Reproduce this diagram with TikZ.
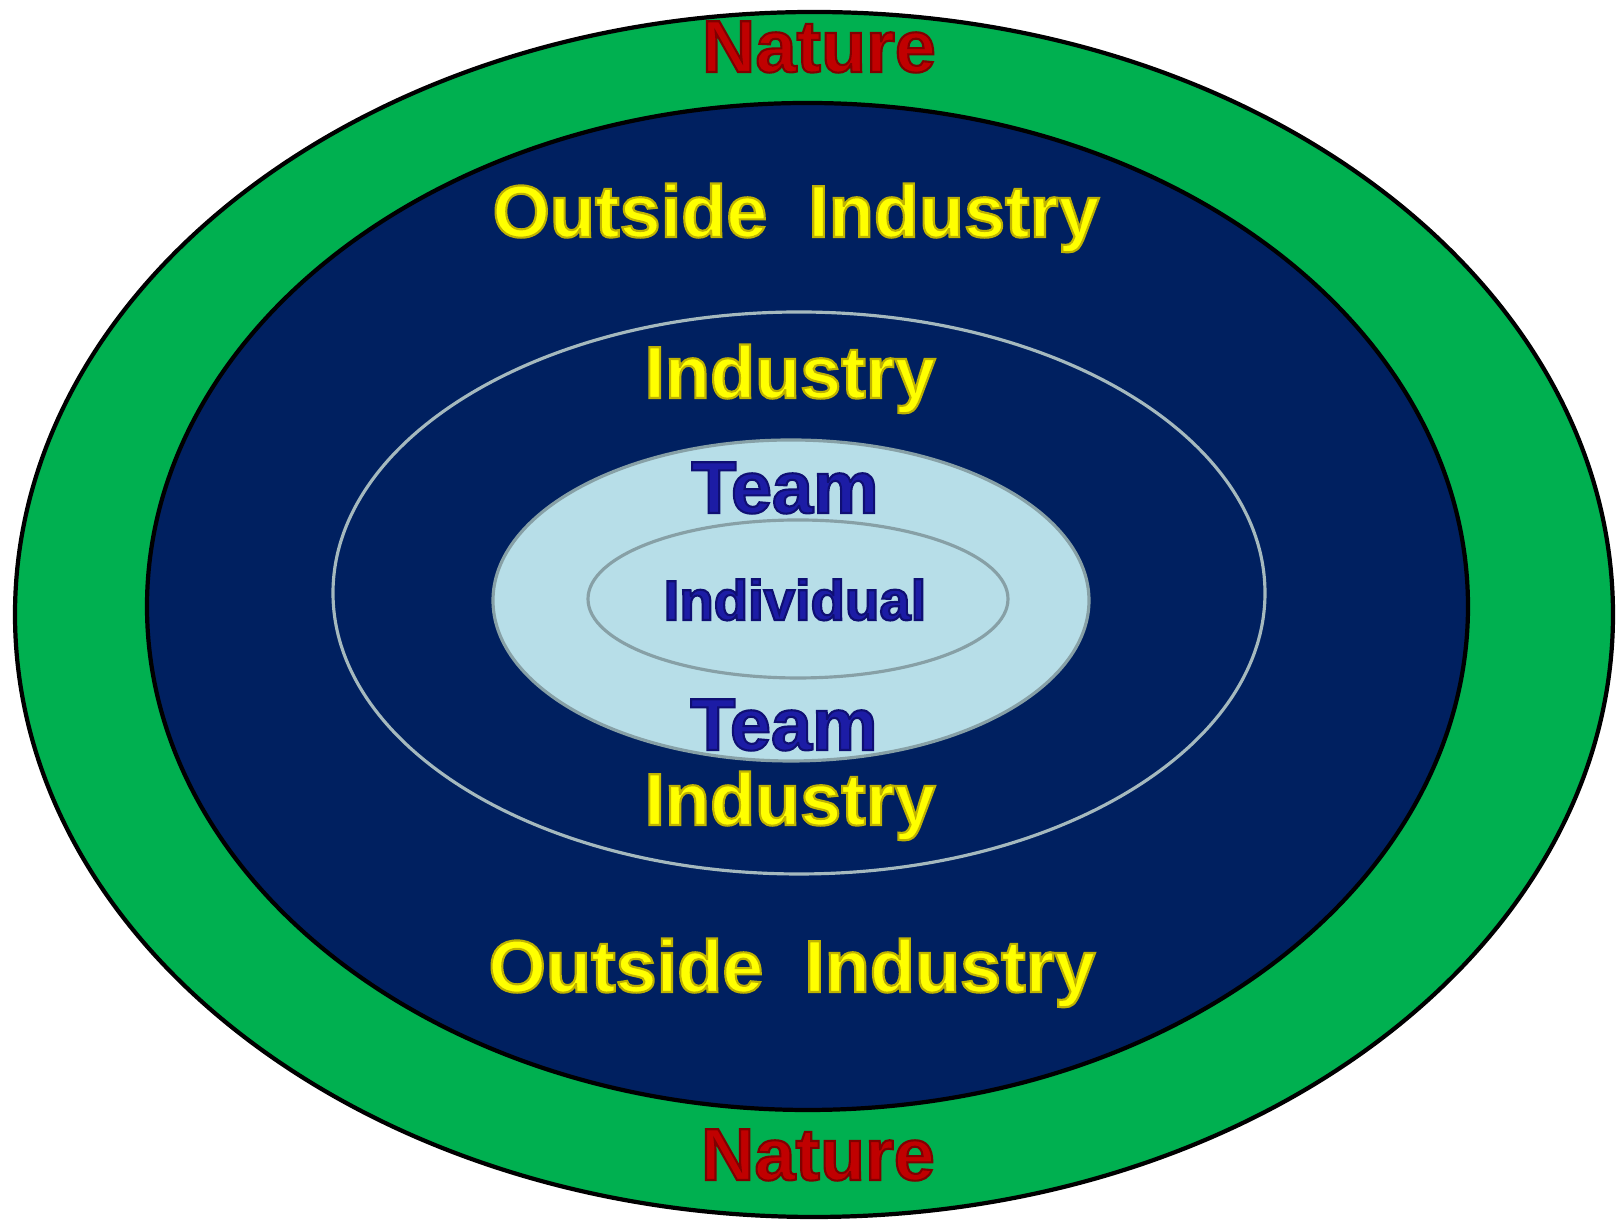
\documentclass[tikz,border=0pt]{standalone}
\usepackage{fontspec}
\setmainfont{Liberation Sans}
\definecolor{naturegreen}{RGB}{0,176,80}
\definecolor{outsidenavy}{RGB}{0,32,96}
\definecolor{teamfill}{RGB}{183,222,232}
\definecolor{ringgray}{RGB}{135,160,166}
\definecolor{industryring}{RGB}{165,185,190}
\definecolor{labelred}{RGB}{192,0,0}
\definecolor{labelyellow}{RGB}{255,255,0}
\definecolor{labelblue}{RGB}{28,28,165}
% darker edge round the letters (stroke colour as r g b)
\newcommand{\edged}[2]{\special{pdf:literal direct 2 Tr 0.6 w #1 RG}#2\special{pdf:literal direct 0 Tr}}
\begin{document}
\begin{tikzpicture}[big/.style={font=\bfseries\fontsize{21}{25}\selectfont, anchor=base}, small/.style={font=\bfseries\fontsize{16}{19}\selectfont, anchor=base}]
	\useasboundingbox (0,0) rectangle (16.18,12.30);
	% rings
	\draw[line width=1.2pt, fill=naturegreen] (8.14,6.155) ellipse (7.99 and 6.025);
	\draw[line width=1.2pt, fill=outsidenavy] (8.075,6.235) ellipse (6.605 and 5.035);
	\draw[line width=0.9pt, industryring] (7.99,6.37) ellipse (4.66 and 2.81);
	\draw[line width=0.9pt, ringgray, fill=teamfill] (7.91,6.295) ellipse (2.98 and 1.605);
	\draw[line width=0.9pt, ringgray] (7.98,6.31) ellipse (2.10 and 0.79);
	% labels
	\node[big, labelred] (N1) at (8.19,11.58) {\edged{0.5 0 0}{Nature}};
	\node[big, labelyellow] (O1) at (7.96,9.93) {\edged{0.75 0.7 0}{Outside\ \ Industry}};
	\node[big, labelyellow] (I1) at (7.90,8.32) {\edged{0.75 0.7 0}{Industry}};
	\node[big, labelblue] (T1) at (7.85,7.17) {\edged{0.06 0.06 0.45}{Team}};
	\node[small, labelblue] (P) at (7.95,6.10) {\edged{0.06 0.06 0.45}{Individual}};
	\node[big, labelblue] (T2) at (7.84,4.80) {\edged{0.06 0.06 0.45}{Team}};
	\node[big, labelyellow] (I2) at (7.90,4.05) {\edged{0.75 0.7 0}{Industry}};
	\node[big, labelyellow] (O2) at (7.92,2.38) {\edged{0.75 0.7 0}{Outside\ \ Industry}};
	\node[big, labelred] (N2) at (8.18,0.50) {\edged{0.5 0 0}{Nature}};
\end{tikzpicture}
\end{document}
